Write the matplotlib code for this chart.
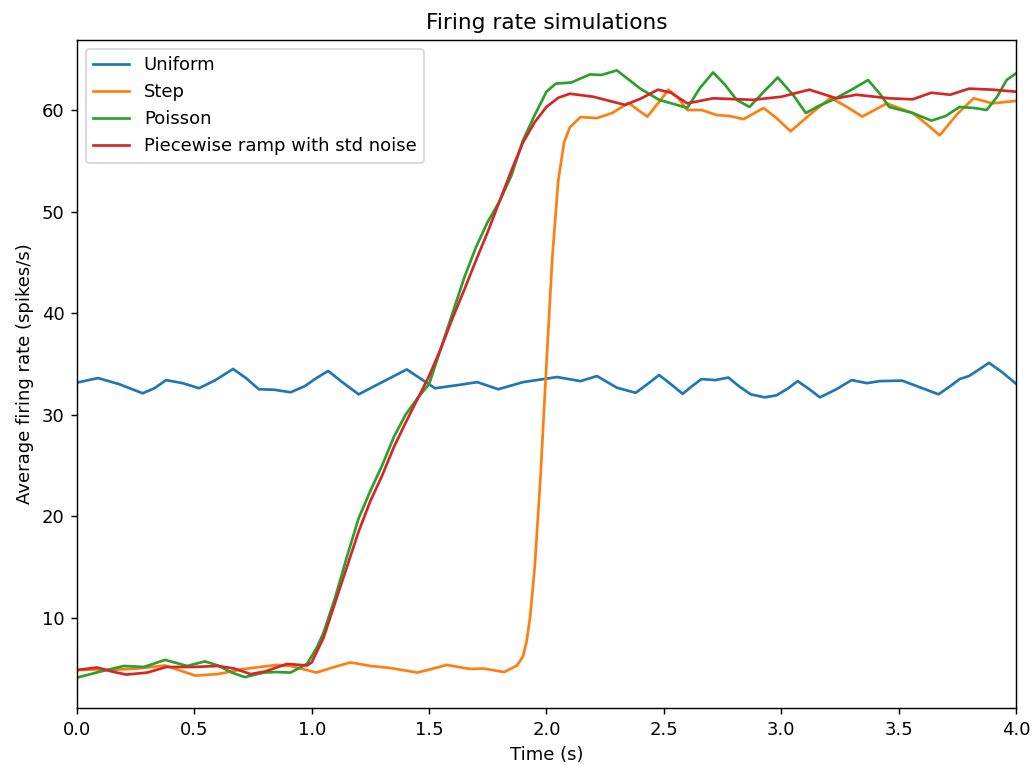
import matplotlib
matplotlib.use("Agg")
import matplotlib.pyplot as plt

# Uniform
t_uniform = [0.0, 0.09, 0.18, 0.28, 0.33, 0.38, 0.45, 0.52, 0.59, 0.665, 0.72, 0.775,
             0.84, 0.91, 0.97, 1.02, 1.07, 1.13, 1.2, 1.3, 1.405, 1.46, 1.525, 1.62,
             1.705, 1.795, 1.9, 2.045, 2.145, 2.215, 2.3, 2.38, 2.43, 2.48, 2.53, 2.58,
             2.62, 2.66, 2.72, 2.775, 2.82, 2.87, 2.93, 2.98, 3.03, 3.07, 3.12, 3.165,
             3.235, 3.3, 3.365, 3.42, 3.515, 3.59, 3.67, 3.72, 3.76, 3.8, 3.84, 3.885,
             3.94, 4.0]
uniform = [33.15, 33.6, 33.0, 32.1, 32.6, 33.4, 33.1, 32.6, 33.4, 34.5, 33.6, 32.5,
           32.45, 32.2, 32.8, 33.6, 34.3, 33.2, 32.0, 33.2, 34.45, 33.6, 32.6, 32.9,
           33.2, 32.5, 33.2, 33.7, 33.3, 33.8, 32.65, 32.15, 33.0, 33.9, 33.0, 32.05,
           32.8, 33.5, 33.4, 33.65, 32.8, 32.0, 31.7, 31.9, 32.6, 33.3, 32.5, 31.7,
           32.5, 33.4, 33.1, 33.3, 33.35, 32.7, 32.0, 32.8, 33.5, 33.8, 34.4, 35.1,
           34.2, 33.05]

# Step
t_step = [0.0, 0.07, 0.14, 0.26, 0.375, 0.44, 0.505, 0.6, 0.71, 0.85, 0.91, 0.97,
          1.02, 1.09, 1.165, 1.25, 1.335, 1.45, 1.51, 1.575, 1.675, 1.73, 1.82, 1.875,
          1.9, 1.915, 1.93, 1.95, 1.975, 2.0, 2.025, 2.05, 2.075, 2.1, 2.145, 2.215,
          2.28, 2.35, 2.39, 2.43, 2.48, 2.52, 2.56, 2.6, 2.66, 2.725, 2.78, 2.84,
          2.925, 2.98, 3.04, 3.12, 3.21, 3.28, 3.345, 3.45, 3.56, 3.62, 3.675, 3.75,
          3.82, 3.9, 4.0]
step = [4.85, 4.9, 4.85, 5.0, 5.3, 4.8, 4.3, 4.45, 4.95, 5.35, 5.25, 4.9,
        4.6, 5.1, 5.6, 5.25, 5.05, 4.6, 4.95, 5.35, 4.95, 5.0, 4.65, 5.3,
        6.2, 7.6, 10.0, 15.0, 24.0, 35.0, 45.5, 53.0, 56.8, 58.3, 59.3, 59.2,
        59.7, 60.7, 60.0, 59.35, 60.8, 62.0, 61.2, 60.0, 60.0, 59.5, 59.4, 59.1,
        60.2, 59.2, 57.9, 59.5, 61.2, 60.3, 59.35, 60.65, 59.7, 58.6, 57.5, 59.6,
        61.15, 60.65, 60.9]

# Poisson
t_poisson = [0.0, 0.1, 0.2, 0.285, 0.375, 0.47, 0.545, 0.6, 0.66, 0.715, 0.795, 0.85,
             0.91, 0.98, 1.02, 1.05, 1.1, 1.15, 1.2, 1.25, 1.3, 1.35, 1.4, 1.45, 1.5,
             1.55, 1.6, 1.65, 1.7, 1.75, 1.8, 1.85, 1.9, 1.95, 2.0, 2.04, 2.105, 2.185,
             2.235, 2.3, 2.35, 2.4, 2.48, 2.6, 2.655, 2.71, 2.76, 2.81, 2.865, 2.93,
             2.985, 3.05, 3.105, 3.16, 3.22, 3.3, 3.37, 3.42, 3.46, 3.56, 3.64, 3.7,
             3.76, 3.82, 3.875, 3.92, 3.96, 4.0]
poisson = [4.1, 4.7, 5.25, 5.15, 5.85, 5.25, 5.7, 5.3, 4.6, 4.15, 4.6, 4.65,
           4.6, 5.45, 7.0, 8.5, 12.0, 16.0, 19.8, 22.5, 25.0, 27.8, 30.0, 31.6, 33.0,
           36.5, 40.0, 43.5, 46.5, 49.0, 51.0, 53.5, 57.0, 59.5, 61.8, 62.6, 62.7, 63.5,
           63.45, 63.9, 63.0, 62.1, 61.0, 60.2, 62.2, 63.7, 62.5, 61.0, 60.3, 61.9,
           63.2, 61.5, 59.7, 60.4, 61.0, 62.0, 62.95, 61.6, 60.3, 59.7, 58.95, 59.4,
           60.3, 60.2, 60.0, 61.3, 62.95, 63.6]

# Piecewise ramp with std noise
t_ramp = [0.0, 0.085, 0.15, 0.21, 0.3, 0.38, 0.5, 0.6, 0.67, 0.74, 0.8, 0.895,
          0.98, 1.0, 1.05, 1.1, 1.15, 1.2, 1.25, 1.3, 1.35, 1.4, 1.45, 1.5, 1.55,
          1.6, 1.65, 1.7, 1.75, 1.8, 1.85, 1.9, 1.95, 2.0, 2.05, 2.1, 2.2, 2.335,
          2.4, 2.475, 2.53, 2.6, 2.71, 2.88, 3.0, 3.12, 3.235, 3.32, 3.46, 3.56,
          3.64, 3.72, 3.8, 3.9, 4.0]
ramp = [4.85, 5.1, 4.7, 4.4, 4.6, 5.15, 5.15, 5.25, 5.0, 4.45, 4.7, 5.45,
        5.3, 5.6, 8.0, 11.5, 15.0, 18.5, 21.5, 24.0, 26.8, 29.2, 31.5, 33.8, 36.5,
        39.5, 42.3, 45.2, 48.0, 51.0, 54.0, 56.8, 58.8, 60.3, 61.2, 61.6, 61.3, 60.5,
        61.1, 62.0, 61.7, 60.65, 61.15, 61.0, 61.3, 62.0, 61.15, 61.5, 61.15, 61.05,
        61.7, 61.5, 62.1, 62.0, 61.8]

# figure at 130 dpi so text and lines come out at the reference size
fig, ax = plt.subplots(figsize=(1033 / 130, 765 / 130), dpi=130)
fig.subplots_adjust(left=0.0745, right=0.9835, top=0.9477, bottom=0.0745)

ax.plot(t_uniform, uniform, label='Uniform')
ax.plot(t_step, step, label='Step')
ax.plot(t_poisson, poisson, label='Poisson')
ax.plot(t_ramp, ramp, label='Piecewise ramp with std noise')

ax.set_xlim(0, 4)
ax.set_title('Firing rate simulations')
ax.set_xlabel('Time (s)')
ax.set_ylabel('Average firing rate (spikes/s)')
ax.legend(loc='upper left')

fig.savefig('out.png', dpi=130)
